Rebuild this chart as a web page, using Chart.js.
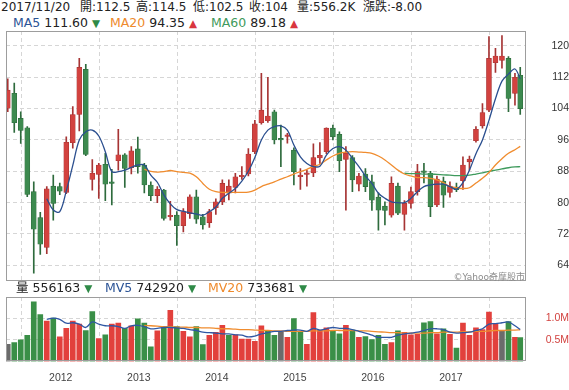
<!DOCTYPE html>
<html>
<head>
<meta charset="utf-8">
<script src="https://cdn.jsdelivr.net/npm/chart.js@4.4.0/dist/chart.umd.min.js"></script>
<style>
  body { margin: 0; background: #fff; width: 569px; height: 390px; overflow: hidden; position: relative;
         font-family: "DejaVu Sans", "Noto Sans CJK TC", sans-serif; color: #222; }
  .t { position: absolute; white-space: nowrap; font-size: 12.5px; line-height: 15px; }
  .h1 { font-size: 12px; }
  .tri { font-size: 10.5px; }
  .up { color: #d9363e; }
  .down { color: #2f8a47; }
  .blue { color: #2c5496; }
  .orange { color: #ee8a2c; }
  .green { color: #3f9a5c; }
  #priceBox { position: absolute; left: 0; top: 26px; width: 569px; height: 262px; }
  #volBox { position: absolute; left: 0; top: 294px; width: 569px; height: 104px; }
  .mark { position: absolute; right: 44px; top: 270px; font-size: 9px; color: #8c8c8c; white-space: nowrap; }
</style>
</head>
<body>
<!-- header line 1 -->
<span class="t h1" style="left:1px;top:0">2017/11/20</span>
<span class="t h1" style="left:80px;top:0">開:112.5</span>
<span class="t h1" style="left:136px;top:0">高:114.5</span>
<span class="t h1" style="left:193px;top:0">低:102.5</span>
<span class="t h1" style="left:249px;top:0">收:104</span>
<span class="t h1" style="left:297px;top:0">量:556.2K</span>
<span class="t h1" style="left:363px;top:0">漲跌:-8.00</span>
<!-- header line 2 -->
<span class="t" style="left:13px;top:15px"><span class="blue">MA5</span> 111.60 <span class="tri down">▼</span></span>
<span class="t" style="left:110px;top:15px"><span class="orange">MA20</span> 94.35 <span class="tri up">▲</span></span>
<span class="t" style="left:211px;top:15px"><span class="green">MA60</span> 89.18 <span class="tri up">▲</span></span>

<div id="priceBox"><canvas id="price"></canvas></div>
<div class="mark">©Yahoo奇摩股市</div>

<!-- volume header -->
<span class="t" style="left:16px;top:280px">量 556163 <span class="tri down">▼</span></span>
<span class="t" style="left:105px;top:280px"><span class="blue">MV5</span> 742920 <span class="tri down">▼</span></span>
<span class="t" style="left:208px;top:280px"><span class="orange">MV20</span> 733681 <span class="tri down">▼</span></span>

<div id="volBox"><canvas id="vol"></canvas></div>

<script>
// monthly candles, April 2011 .. November 2017 (last one dated 2017/11/20)
const firstMonth = 3;        // April 2011, counted in months from January 2011
const endOfMonth = 0.85;     // candles sit at the month's last trading day
const lastDay = 0.66;        // 2017/11/20
const years = ['2012', '2013', '2014', '2015', '2016', '2017'];
const yearTicks = [12, 24, 36, 48, 60, 72];
const priceTicks = [64, 72, 80, 88, 96, 104, 112, 120];
const volumeTicks = [500, 1000];   // thousands of shares

const open = [104.1, 107.9, 101.5, 99.1, 82.8, 76.2, 68.6, 84.2, 84.1,
  82.6, 95.3, 102.5, 114.0, 85.9, 87.2, 89.8, 85.2, 90.7, 92.2, 88.9, 93.7,
  89.6, 84.5, 81.8, 83.2, 76.4, 76.8, 74.1, 77.2, 81.5, 76.4, 74.9, 78.7,
  80.2, 82.4, 83.9, 86.6, 87.3, 93.0, 100.4, 100.9, 103.2, 96.1, 96.9, 93.4,
  86.6, 87.2, 87.6, 91.4, 93.0, 99.0, 97.4, 91.0, 91.5, 84.7, 87.3, 85.3,
  81.4, 79.1, 76.8, 84.2, 77.0, 79.8, 82.8, 88.1, 87.5, 79.4, 85.5, 82.6,
  84.0, 85.6, 90.4, 95.8, 99.6, 103.6, 115.7, 116.3, 116.8, 107.9, 112.5];
const high = [111.6, 110.5, 103.2, 99.4, 85.3, 77.5, 84.1, 87.0, 85.0,
  96.8, 104.5, 116.8, 115.3, 91.0, 90.0, 92.6, 88.5, 98.7, 92.5, 94.3, 96.7,
  90.0, 85.3, 84.1, 83.4, 80.3, 77.7, 78.5, 82.0, 83.2, 77.0, 78.3, 81.0,
  85.8, 85.8, 87.5, 89.2, 93.8, 101.0, 113.0, 112.0, 103.6, 99.8, 97.7, 94.0,
  88.7, 88.3, 95.0, 95.3, 99.1, 99.8, 98.1, 94.3, 92.0, 87.5, 88.7, 87.0,
  82.5, 80.2, 86.6, 85.0, 80.5, 84.0, 89.8, 90.0, 88.0, 86.8, 86.5, 85.3,
  85.0, 91.7, 91.9, 99.4, 105.3, 122.4, 119.4, 122.6, 117.3, 113.0, 114.5];
const low = [103.2, 97.9, 95.1, 81.5, 62.0, 66.8, 67.0, 75.5, 82.0,
  82.3, 93.9, 98.3, 92.0, 83.2, 81.1, 80.5, 79.4, 88.3, 83.9, 87.3, 87.5,
  82.5, 80.5, 80.0, 75.5, 75.5, 69.1, 72.5, 76.0, 74.7, 73.2, 73.7, 77.0,
  79.5, 80.7, 82.5, 85.9, 86.8, 92.5, 100.0, 100.5, 95.0, 89.2, 95.2, 84.5,
  83.4, 84.2, 86.6, 90.0, 92.5, 96.0, 87.9, 78.1, 82.8, 83.0, 82.8, 78.0,
  73.0, 74.3, 76.3, 76.9, 73.0, 78.6, 81.9, 85.0, 76.4, 79.0, 78.8, 81.4,
  82.8, 83.4, 88.3, 95.4, 99.0, 103.2, 113.2, 114.3, 103.2, 104.9, 102.5];
const close = [108.7, 100.4, 98.4, 82.1, 73.2, 69.4, 83.5, 79.8, 82.9,
  95.4, 102.5, 114.5, 92.3, 87.5, 89.6, 84.7, 84.9, 92.2, 88.7, 93.2, 89.2,
  84.5, 81.8, 83.4, 76.0, 76.6, 74.1, 77.7, 81.5, 75.8, 74.3, 77.7, 80.2,
  84.9, 84.2, 86.6, 86.8, 92.4, 100.1, 103.6, 102.1, 96.0, 96.0, 97.1, 87.9,
  87.0, 87.3, 91.5, 92.1, 99.0, 96.8, 90.7, 92.6, 85.8, 86.8, 84.1, 80.6,
  78.1, 78.0, 84.9, 77.3, 79.8, 82.8, 87.9, 87.7, 79.0, 86.0, 81.9, 84.2,
  83.3, 89.6, 91.1, 98.7, 103.0, 116.8, 117.4, 117.4, 106.6, 112.0, 104.0];
const volume = [400, 440, 500, 610, 1390, 1090, 940, 1010, 570,
  770, 940, 870, 720, 1160, 530, 620, 870, 890, 770, 830, 990,
  890, 340, 710, 790, 1190, 810, 700, 570, 810, 390, 610, 680,
  840, 610, 620, 520, 520, 470, 830, 700, 610, 700, 560, 1000,
  680, 400, 1140, 730, 780, 700, 640, 840, 730, 560, 580, 510,
  610, 400, 440, 710, 680, 620, 630, 900, 930, 640, 760, 630,
  310, 890, 610, 780, 740, 1150, 870, 700, 930, 560, 556];

const ma5 = Array(6).fill(null).concat([81.0, 78.1, 77.7,
  83.0, 89.5, 96.0, 98.1, 98.5, 97.0, 93.0, 87.9, 87.9, 88.3, 89.0, 89.6,
  89.6, 87.0, 85.2, 82.0, 79.7, 78.2, 77.8, 77.4, 77.1, 76.8, 77.7, 78.9,
  81.1, 82.4, 83.6, 85.5, 88.0, 91.5, 96.0, 98.5, 99.4, 99.6, 98.5, 94.7,
  91.7, 90.0, 89.2, 89.3, 92.1, 93.8, 94.3, 93.4, 91.3, 89.2, 86.8, 84.9,
  82.4, 81.1, 80.2, 80.0, 80.0, 81.1, 82.8, 84.1, 84.5, 84.7, 84.7, 84.1,
  83.4, 85.1, 88.3, 92.5, 96.0, 101.0, 106.5, 111.0, 112.8, 114.1, 111.6]);
const ma20 = Array(21).fill(null).concat([88.5, 88.0, 87.8, 87.9, 88.2, 87.9,
  87.7, 87.5, 86.6, 84.9, 83.4, 82.8, 82.6, 82.6, 82.6, 82.6, 82.7, 83.2,
  84.1, 84.7, 85.3, 86.0, 86.6, 87.3, 87.9, 88.5, 89.2, 89.8, 90.9, 91.9,
  92.6, 92.9, 93.0, 92.9, 92.8, 92.6, 91.9, 90.9, 89.6, 88.3, 87.3, 86.8,
  86.4, 86.4, 86.2, 85.8, 85.1, 84.1, 83.8, 83.6, 83.8, 85.0, 86.2, 87.7,
  89.6, 91.2, 92.6, 93.5, 94.35]);
const ma60 = Array(61).fill(null).concat([87.5, 87.4, 87.4, 87.3, 87.3, 87.2,
  87.1, 87.0, 86.9, 86.9, 87.0, 87.3, 87.6, 88.0, 88.3, 88.6, 88.9, 89.1, 89.18]);
const mv5 = Array(6).fill(null).concat([980, 1010, 980,
  890, 900, 870, 790, 920, 870, 830, 830, 810, 770, 830, 840,
  810, 760, 770, 790, 790, 780, 770, 740, 720, 680, 670, 660,
  640, 640, 620, 610, 570, 590, 640, 670, 700, 700, 720, 730,
  730, 700, 770, 730, 760, 790, 770, 770, 740, 700, 660, 610,
  560, 560, 560, 610, 640, 660, 680, 720, 760, 760, 740, 680,
  660, 670, 680, 720, 760, 870, 880, 900, 920, 830, 743]);
const mv20 = Array(21).fill(null).concat([840, 830, 820, 810, 810, 800,
  800, 790, 790, 780, 780, 770, 760, 760, 750, 740, 740, 730, 720, 720,
  710, 710, 700, 700, 700, 700, 710, 710, 710, 720, 720, 720, 720, 710,
  710, 700, 690, 680, 670, 670, 660, 660, 660, 660, 670, 670, 680, 680,
  680, 690, 690, 700, 700, 710, 720, 720, 730, 730, 734]);

const RED = '#d2423f', GREEN = '#3d8a4f', RED_EDGE = '#a63434', GREEN_EDGE = '#2e6b3d';
const VRED = '#e2403c', VGREEN = '#3a8f47', VGRAY = '#6b6b6b';
const xMin = 3.58, xMax = 83.5;

const xs = close.map((c, i) => firstMonth + i + (i === close.length - 1 ? lastDay : endOfMonth));
const pts = arr => xs.map((x, i) => ({ x: x, y: arr[i] }));
const isUp = i => close[i] >= open[i];
function volColor(i) {
  if (i === 0 || close[i] === close[i - 1]) return VGRAY;
  return close[i] > close[i - 1] ? VRED : VGREEN;
}

Chart.defaults.font.family = '"Liberation Sans", Arial, sans-serif';

const frame = {
  id: 'frame',
  afterDraw(chart) {
    const a = chart.chartArea, ctx = chart.ctx;
    ctx.save();
    ctx.strokeStyle = '#9d9d9d';
    ctx.lineWidth = 1;
    ctx.strokeRect(Math.round(a.left) + 0.5, Math.round(a.top) + 0.5,
      Math.round(a.right - a.left) - 1, Math.round(a.bottom - a.top) - 1);
    ctx.restore();
  }
};

// keep the tick labels from pushing the plot area in
function noPad(a) { a.paddingTop = 0; a.paddingBottom = 0; a.paddingLeft = 0; a.paddingRight = 0; }
function rightAxis(a) { a.width = 43.3; noPad(a); }

function lineSet(data, color) {
  return { type: 'line', data: pts(data), borderColor: color, borderWidth: 1.3,
           pointRadius: 0, pointHoverRadius: 0, tension: 0.35, order: 0 };
}

const gridStyle = { color: '#d6d6d6', drawTicks: false };
const dashBorder = { display: false, dash: [4, 3] };

new Chart(document.getElementById('price'), {
  type: 'bar',
  data: {
    datasets: [
      lineSet(ma5, '#2b4f8f'),
      lineSet(ma20, '#f08c2e'),
      lineSet(ma60, '#3e9a5c'),
      { data: xs.map((x, i) => ({ x: x, y: [low[i], high[i]] })),
        backgroundColor: c => isUp(c.dataIndex) ? RED_EDGE : GREEN_EDGE,
        barThickness: 1, grouped: false, order: 2 },
      { data: xs.map((x, i) => ({ x: x, y: [open[i], close[i]] })),
        backgroundColor: c => isUp(c.dataIndex) ? RED : GREEN,
        borderColor: c => isUp(c.dataIndex) ? RED_EDGE : GREEN_EDGE,
        borderWidth: 0.6, borderSkipped: false,
        barThickness: 5, minBarLength: 1.5, grouped: false, order: 1 }
    ]
  },
  options: {
    responsive: true, maintainAspectRatio: false, animation: false,
    layout: { autoPadding: false, padding: { left: 6, top: 5, bottom: 7, right: 0 } },
    plugins: { legend: { display: false }, tooltip: { enabled: false } },
    scales: {
      x: { type: 'linear', min: xMin, max: xMax, offset: false,
           afterBuildTicks: a => { a.ticks = yearTicks.map(v => ({ value: v })); },
           afterFit: noPad,
           ticks: { display: false }, grid: gridStyle, border: dashBorder },
      y: { position: 'right', min: 60, max: 123.8,
           afterBuildTicks: a => { a.ticks = priceTicks.map(v => ({ value: v })); },
           afterFit: rightAxis,
           ticks: { color: '#333', font: { size: 10.5 }, padding: 11, crossAlign: 'far' },
           grid: gridStyle, border: dashBorder }
    }
  },
  plugins: [frame]
});

new Chart(document.getElementById('vol'), {
  type: 'bar',
  data: {
    datasets: [
      lineSet(mv5, '#2f57a3'),
      lineSet(mv20, '#f08c2e'),
      { data: xs.map((x, i) => ({ x: x, y: volume[i] })),
        backgroundColor: c => volColor(c.dataIndex),
        barThickness: 5, grouped: false, order: 1 }
    ]
  },
  options: {
    responsive: true, maintainAspectRatio: false, animation: false,
    layout: { autoPadding: false, padding: { left: 6, top: 3, bottom: 4, right: 0 } },
    plugins: { legend: { display: false }, tooltip: { enabled: false } },
    scales: {
      x: { type: 'linear', min: xMin, max: xMax, offset: false,
           afterBuildTicks: a => { a.ticks = yearTicks.map(v => ({ value: v })); },
           afterFit: noPad,
           ticks: { color: '#444', font: { size: 10.5 }, padding: 10, maxRotation: 0, autoSkip: false,
                    callback: v => years[yearTicks.indexOf(v)] },
           grid: gridStyle, border: dashBorder },
      y: { position: 'right', min: 0, max: 1500,
           afterBuildTicks: a => { a.ticks = volumeTicks.map(v => ({ value: v })); },
           afterFit: rightAxis,
           ticks: { color: '#d2423f', font: { size: 10.5 }, padding: 6, crossAlign: 'far',
                    callback: v => (v / 1000).toFixed(1) + 'M' },
           grid: gridStyle, border: dashBorder }
    }
  },
  plugins: [frame]
});
</script>
</body>
</html>
